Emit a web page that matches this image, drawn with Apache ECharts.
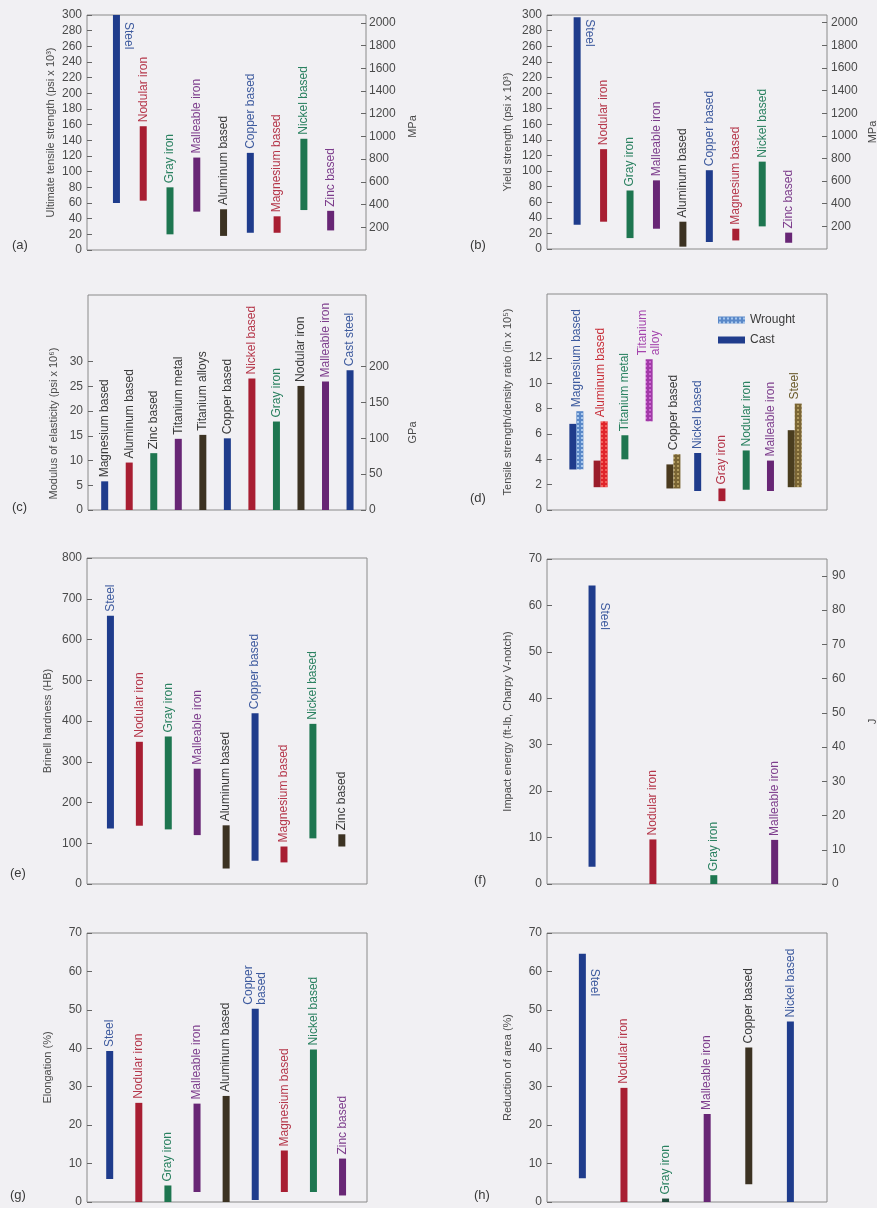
<!DOCTYPE html>
<html>
<head>
<meta charset="utf-8">
<title>Cast metal properties</title>
<script src="https://cdn.jsdelivr.net/npm/echarts@6/dist/echarts.min.js"></script>
<style>
  html, body { margin: 0; padding: 0; background: #f1f0f3; }
  #main { width: 877px; height: 1208px; }
</style>
</head>
<body>
<div id="main"></div>
<script>
// (a) ultimate tensile strength, psi x 10^3
const aNames = ['Steel', 'Nodular iron', 'Gray iron', 'Malleable iron', 'Aluminum based', 'Copper based', 'Magnesium based', 'Nickel based', 'Zinc based'];
const aLow = [60, 63, 20, 49, 18, 22, 22, 51, 25];
const aHigh = [300, 158, 80, 118, 52, 124, 43, 142, 50];

// (b) yield strength, psi x 10^3
const bNames = ['Steel', 'Nodular iron', 'Gray iron', 'Malleable iron', 'Aluminum based', 'Copper based', 'Magnesium based', 'Nickel based', 'Zinc based'];
const bLow = [31, 35, 14, 26, 3, 9, 11, 29, 8];
const bHigh = [297, 128, 75, 88, 35, 101, 26, 112, 21];

// (c) modulus of elasticity, psi x 10^6
const cNames = ['Magnesium based', 'Aluminum based', 'Zinc based', 'Titanium metal', 'Titanium alloys', 'Copper based', 'Nickel based', 'Gray iron', 'Nodular iron', 'Malleable iron', 'Cast steel'];
const cValues = [5.8, 9.6, 11.5, 14.4, 15.2, 14.5, 26.6, 17.9, 25.1, 26.0, 28.3];

// (d) tensile strength / density, in x 10^5
const dNames = ['Magnesium based', 'Aluminum based', 'Titanium metal', 'Titanium\nalloy', 'Copper based', 'Nickel based', 'Gray iron', 'Nodular iron', 'Malleable iron', 'Steel'];
const dCastLow = [3.2, 1.8, 4.0, null, 1.7, 1.5, 0.7, 1.6, 1.5, 1.8];
const dCastHigh = [6.8, 3.9, 5.9, null, 3.6, 4.5, 1.7, 4.7, 3.9, 6.3];
const dWroughtLow = [3.2, 1.8, null, 7.0, 1.7, null, null, null, null, 1.8];
const dWroughtHigh = [7.8, 7.0, null, 11.9, 4.4, null, null, null, null, 8.4];

// (e) Brinell hardness
const eNames = ['Steel', 'Nodular iron', 'Gray iron', 'Malleable iron', 'Aluminum based', 'Copper based', 'Magnesium based', 'Nickel based', 'Zinc based'];
const eLow = [136, 143, 134, 120, 38, 57, 53, 112, 92];
const eHigh = [658, 349, 362, 283, 144, 419, 92, 393, 122];

// (f) impact energy, ft-lb
const fNames = ['Steel', 'Nodular iron', 'Gray iron', 'Malleable iron'];
const fLow = [3.7, 0, 0, 0];
const fHigh = [64.3, 9.6, 1.9, 9.5];

// (g) elongation, %
const gNames = ['Steel', 'Nodular iron', 'Gray iron', 'Malleable iron', 'Aluminum based', 'Copper\nbased', 'Magnesium based', 'Nickel based', 'Zinc based'];
const gLow = [6, 0, 0, 2.6, 0, 0.5, 2.6, 2.6, 1.7];
const gHigh = [39.3, 25.8, 4.3, 25.6, 27.6, 50.3, 13.4, 39.7, 11.3];

// (h) reduction of area, %
const hNames = ['Steel', 'Nodular iron', 'Gray iron', 'Malleable iron', 'Copper based', 'Nickel based'];
const hLow = [6.2, 0, 0, 0, 4.6, 0];
const hHigh = [64.6, 29.7, 0.9, 22.9, 40.2, 47];

// tick labels
const mpaTicks = [200, 400, 600, 800, 1000, 1200, 1400, 1600, 1800, 2000];
const modTicks = [0, 5, 10, 15, 20, 25, 30];
const gpaTicks = [0, 50, 100, 150, 200];
const ratioTicks = [0, 2, 4, 6, 8, 10, 12];
const jouleTicks = [0, 10, 20, 30, 40, 50, 60, 70, 80, 90];

const PSI_TO_MPA = 6.895;
const FTLB_TO_J = 1.3558;
const FONT = '"Liberation Sans", Arial, Helvetica, sans-serif';

// colours
const NAVY = '#1f3c8c', RED = '#a81e32', GREEN = '#1e7650', PURPLE = '#682675', BROWN = '#3c3222', OLIVE = '#4a3d1e';
const tNavy = '#3d5a9e', tRed = '#b5374a', tGreen = '#2a8160', tPurple = '#7d3d8c', tDark = '#3a3a3a';

const stdBar = [NAVY, RED, GREEN, PURPLE, BROWN, NAVY, RED, GREEN, PURPLE];
const stdText = [tNavy, tRed, tGreen, tPurple, tDark, tNavy, tRed, tGreen, tPurple];
const cBar = [NAVY, RED, GREEN, PURPLE, BROWN, NAVY, RED, GREEN, BROWN, PURPLE, NAVY];
const cText = [tDark, tDark, tDark, tDark, tDark, tDark, tRed, tGreen, tDark, tPurple, tNavy];
const eBar = [NAVY, RED, GREEN, PURPLE, BROWN, NAVY, RED, GREEN, BROWN];
const eText = [tNavy, tRed, tGreen, tPurple, tDark, tNavy, tRed, tGreen, tDark];
const hBar = [NAVY, RED, '#1d4a3a', PURPLE, BROWN, NAVY];
const hText = [tNavy, tRed, tGreen, tPurple, tDark, tNavy];

function dotPattern(base, dot) {
  var c = document.createElement('canvas');
  c.width = 4; c.height = 4;
  var g = c.getContext('2d');
  g.fillStyle = base; g.fillRect(0, 0, 4, 4);
  g.fillStyle = dot;
  g.fillRect(1, 1, 2, 2);
  return { image: c, repeat: 'repeat' };
}

const dCastBar = [NAVY, '#9a1c2a', GREEN, null, '#4a3a1e', NAVY, RED, GREEN, PURPLE, OLIVE];
const dWroughtBar = [dotPattern('#5a88c8', '#a8c8ee'), dotPattern('#e0242a', '#f2605a'), null, dotPattern('#a23aa8', '#cf6ad4'),
  dotPattern('#7a6534', '#b09a5e'), null, null, null, null, dotPattern('#7a6534', '#b09a5e')];
const dText = [tNavy, '#c8303a', tGreen, '#a545ad', tDark, tNavy, tRed, tGreen, tPurple, '#6a5a2a'];

var grids = [], xAxes = [], yAxes = [], series = [], graphics = [];

function yAxisOpt(gi, o, right) {
  var ax = {
    type: 'value', gridIndex: gi, position: right ? 'right' : 'left',
    min: o.min, max: o.max,
    name: o.name, nameLocation: 'middle', nameGap: o.gap, nameRotate: 90,
    nameTextStyle: { color: '#4a4a4a', fontSize: 11, fontFamily: FONT, padding: o.pad || 0 },
    // frame comes from the grid border; keep the axis on the grid edge
    axisLine: { show: false, onZero: false },
    splitLine: { show: false },
    axisTick: { show: true, inside: true, length: 5, lineStyle: { color: '#666' } },
    axisLabel: { color: '#4a4a4a', fontSize: 12, fontFamily: FONT, margin: o.margin || 5,
      formatter: function (v) { return String(v); } }
  };
  if (o.interval) ax.interval = o.interval;
  if (o.ticks) {
    ax.axisTick.customValues = o.ticks;
    ax.axisLabel.customValues = o.ticks;
  }
  return ax;
}

function barSeries(gi, yi, names, low, high, fills, texts, opt) {
  var data = [];
  for (var i = 0; i < names.length; i++) {
    if (low[i] == null) continue;
    data.push([i + 1, low[i], high[i], i]);
  }
  return {
    type: 'custom', name: opt.name, xAxisIndex: gi, yAxisIndex: yi,
    coordinateSystem: 'cartesian2d',
    itemStyle: opt.legendColor ? { color: opt.legendColor } : undefined,
    encode: { x: 0, y: [1, 2] },
    data: data,
    renderItem: function (params, api) {
      var i = api.value(3);
      var top = api.coord([api.value(0), api.value(2)]);
      var bot = api.coord([api.value(0), api.value(1)]);
      var w = opt.barW || 7;
      var cx = top[0] + (opt.dx ? opt.dx(i) : 0);
      var kids = [{
        type: 'rect',
        shape: { x: cx - w / 2, y: top[1], width: w, height: Math.max(bot[1] - top[1], 1) },
        style: { fill: fills[i] }
      }];
      if (!opt.skipLabel || !opt.skipLabel(i)) {
        var side = opt.side && opt.side.index === i;
        kids.push({
          type: 'text',
          x: side ? cx + w / 2 + 2 : top[0],
          y: side ? top[1] + opt.side.offset : top[1] - 4,
          rotation: side ? -Math.PI / 2 : Math.PI / 2,
          style: {
            text: names[i], fill: texts[i], fontSize: 12, fontFamily: FONT,
            align: 'left', verticalAlign: side ? 'bottom' : 'middle', lineHeight: 13
          }
        });
      }
      return { type: 'group', children: kids };
    }
  };
}

function addPanel(p) {
  var gi = grids.length;
  grids.push({ left: p.left, top: p.top, width: p.width, height: p.height, show: true,
    borderColor: '#8a8a8a', borderWidth: 1, backgroundColor: 'transparent',
    containLabel: false, outerBoundsMode: 'none' });
  xAxes.push({ type: 'value', gridIndex: gi, min: p.xMin, max: p.xMax, show: false });
  var yi = yAxes.length;
  yAxes.push(yAxisOpt(gi, p.y, false));
  if (p.y2) yAxes.push(yAxisOpt(gi, p.y2, true));
  graphics.push({ type: 'text', x: p.tag[1], y: p.tag[2],
    style: { text: p.tag[0], fontSize: 13, fontFamily: FONT, fill: '#3a3a3a', verticalAlign: 'middle' } });
  return { gi: gi, yi: yi };
}

// (a)
var pa = addPanel({ left: 87, top: 15, width: 279, height: 235, xMin: -0.1, xMax: 10.32, tag: ['(a)', 12, 245],
  y: { min: 0, max: 300, interval: 20, name: 'Ultimate tensile strength (psi x 10³)', gap: 31 },
  y2: { min: 0, max: 300 * PSI_TO_MPA, ticks: mpaTicks, name: 'MPa', gap: 41, margin: 3, pad: [0, 0, 0, 12] } });
series.push(barSeries(pa.gi, pa.yi, aNames, aLow, aHigh, stdBar, stdText, { side: { index: 0, offset: 7 } }));

// (b)
var pb = addPanel({ left: 547, top: 15, width: 280, height: 234, xMin: -0.14, xMax: 10.45, tag: ['(b)', 470, 245],
  y: { min: 0, max: 300, interval: 20, name: 'Yield strength (psi x 10³)', gap: 34 },
  y2: { min: 0, max: 300 * PSI_TO_MPA, ticks: mpaTicks, name: 'MPa', gap: 40, margin: 4 } });
series.push(barSeries(pb.gi, pb.yi, bNames, bLow, bHigh, stdBar, stdText, { side: { index: 0, offset: 2 } }));

// (c)
var pc = addPanel({ left: 88, top: 295, width: 278, height: 215, xMin: 0.32, xMax: 11.65, tag: ['(c)', 12, 507],
  y: { min: 0, max: 43.5, ticks: modTicks, name: 'Modulus of elasticity (psi x 10⁶)', gap: 29, pad: [0, 42, 0, 0] },
  y2: { min: 0, max: 43.5 * PSI_TO_MPA, ticks: gpaTicks, name: 'GPa', gap: 41, margin: 3, pad: [0, 60, 0, 0] } });
series.push(barSeries(pc.gi, pc.yi, cNames, cValues.map(function () { return 0; }), cValues, cBar, cText, {}));

// (d)
var pd = addPanel({ left: 547, top: 294, width: 280, height: 216, xMin: -0.21, xMax: 11.33, tag: ['(d)', 470, 498],
  y: { min: 0, max: 17.05, ticks: ratioTicks, name: 'Tensile strength/density ratio (in x 10⁵)', gap: 34 } });
function paired(i) { return dCastLow[i] != null && dWroughtLow[i] != null; }
series.push(barSeries(pd.gi, pd.yi, dNames, dCastLow, dCastHigh, dCastBar, dText, {
  name: 'Cast', legendColor: NAVY,
  dx: function (i) { return paired(i) ? -3.5 : 0; },
  skipLabel: function (i) { return paired(i); }
}));
series.push(barSeries(pd.gi, pd.yi, dNames, dWroughtLow, dWroughtHigh, dWroughtBar, dText, {
  name: 'Wrought', legendColor: dotPattern('#5a88c8', '#a8c8ee'),
  dx: function (i) { return paired(i) ? 3.5 : 0; }
}));

// (e)
var pe = addPanel({ left: 87, top: 558, width: 280, height: 326, xMin: 0.19, xMax: 9.87, tag: ['(e)', 10, 873],
  y: { min: 0, max: 800, interval: 100, name: 'Brinell hardness (HB)', gap: 34 } });
series.push(barSeries(pe.gi, pe.yi, eNames, eLow, eHigh, eBar, eText, {}));

// (f)
var pf = addPanel({ left: 547, top: 559, width: 280, height: 325, xMin: 0.26, xMax: 4.86, tag: ['(f)', 474, 880],
  y: { min: 0, max: 70, interval: 10, name: 'Impact energy (ft-lb, Charpy V-notch)', gap: 34 },
  y2: { min: 0, max: 70 * FTLB_TO_J, ticks: jouleTicks, name: 'J', gap: 40, margin: 5 } });
series.push(barSeries(pf.gi, pf.yi, fNames, fLow, fHigh, [NAVY, RED, GREEN, PURPLE], [tNavy, tRed, tGreen, tPurple],
  { side: { index: 0, offset: 17 } }));

// (g)
var pg = addPanel({ left: 87, top: 933, width: 280, height: 269, xMin: 0.22, xMax: 9.84, tag: ['(g)', 10, 1195],
  y: { min: 0, max: 70, interval: 10, name: 'Elongation (%)', gap: 34 } });
series.push(barSeries(pg.gi, pg.yi, gNames, gLow, gHigh, stdBar, stdText, {}));

// (h)
var ph = addPanel({ left: 547, top: 933, width: 280, height: 269, xMin: 0.15, xMax: 6.88, tag: ['(h)', 474, 1195],
  y: { min: 0, max: 70, interval: 10, name: 'Reduction of area (%)', gap: 34 } });
series.push(barSeries(ph.gi, ph.yi, hNames, hLow, hHigh, hBar, hText, { side: { index: 0, offset: 15 } }));

var chart = echarts.init(document.getElementById('main'), null, { renderer: 'canvas' });
chart.setOption({
  animation: false,
  backgroundColor: '#f1f0f3',
  textStyle: { fontFamily: FONT },
  grid: grids,
  xAxis: xAxes,
  yAxis: yAxes,
  legend: {
    data: ['Wrought', 'Cast'], orient: 'vertical', left: 713, top: 309,
    itemWidth: 27, itemHeight: 7, itemGap: 8, icon: 'rect', selectedMode: false,
    textStyle: { fontSize: 12, color: '#3a3a3a', fontFamily: FONT }
  },
  graphic: graphics,
  series: series
});
</script>
</body>
</html>
